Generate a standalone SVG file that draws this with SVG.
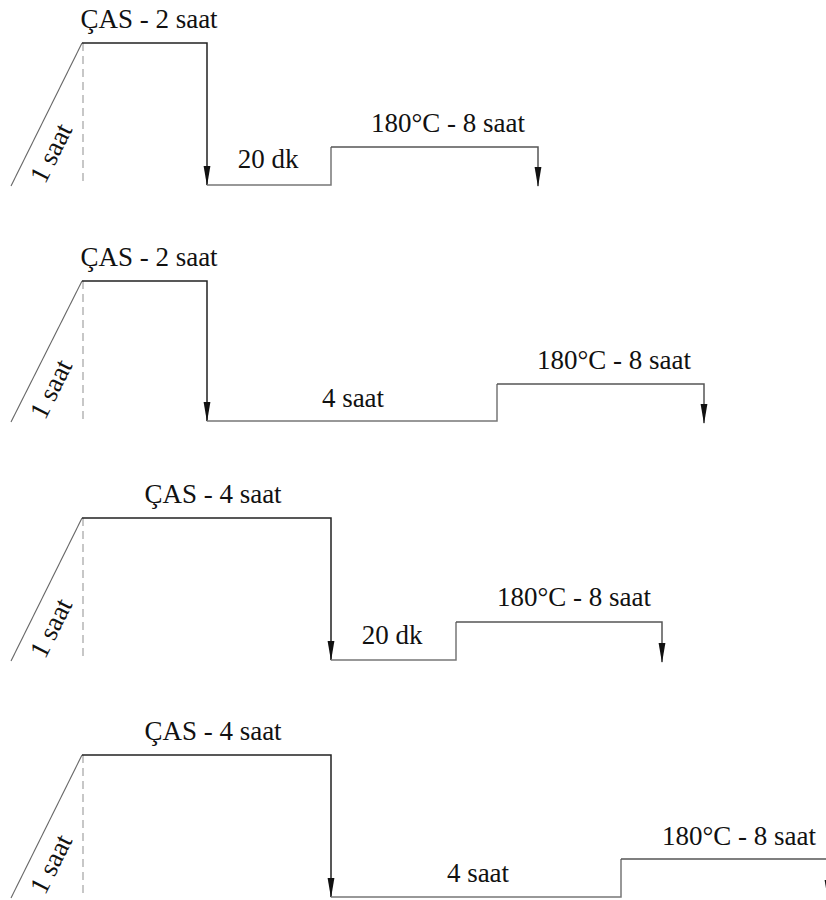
<svg xmlns="http://www.w3.org/2000/svg" width="826" height="900" viewBox="0 0 826 900">
<style>
.bg{fill:#ffffff}
.ramp{stroke:#666;stroke-width:1.1;fill:none}
.dash{stroke:#aaa;stroke-width:1.3;stroke-dasharray:8,5;fill:none}
.hold{stroke:#222;stroke-width:1.5;fill:none}
.low{stroke:#777;stroke-width:1.5;fill:none}
.age{stroke:#555;stroke-width:1.5;fill:none}
</style>
<defs>
<marker id="ah" markerUnits="userSpaceOnUse" markerWidth="24" markerHeight="10" refX="0" refY="0" viewBox="-20 -5 24 10" orient="auto">
<path d="M-19,-3.4 L1,0 L-19,3.4 Z" fill="#111"/>
</marker>
</defs>
<rect class="bg" x="0" y="0" width="826" height="900"/>
<g id="connectors">
<line class="ramp" x1="11" y1="186" x2="82" y2="43"/>
<line class="dash" x1="83" y1="43" x2="83" y2="186"/>
<polyline class="hold" points="82,43 207,43 207,185" marker-end="url(#ah)"/>
<polyline class="low" points="207,185 331,185 331,147"/>
<polyline class="age" points="331,147 538,147 538,186" marker-end="url(#ah)"/>
<line class="ramp" x1="11" y1="422" x2="82" y2="281"/>
<line class="dash" x1="83" y1="281" x2="83" y2="422"/>
<polyline class="hold" points="82,281 207,281 207,421" marker-end="url(#ah)"/>
<polyline class="low" points="207,421 497,421 497,384"/>
<polyline class="age" points="497,384 704,384 704,423" marker-end="url(#ah)"/>
<line class="ramp" x1="11" y1="661" x2="82" y2="518"/>
<line class="dash" x1="83" y1="518" x2="83" y2="661"/>
<polyline class="hold" points="82,518 331,518 331,660" marker-end="url(#ah)"/>
<polyline class="low" points="331,660 456,660 456,622"/>
<polyline class="age" points="456,622 662,622 662,662" marker-end="url(#ah)"/>
<line class="ramp" x1="11" y1="898" x2="82" y2="755"/>
<line class="dash" x1="83" y1="755" x2="83" y2="898"/>
<polyline class="hold" points="82,755 331,755 331,897" marker-end="url(#ah)"/>
<polyline class="low" points="331,897 621,897 621,859"/>
<polyline class="age" points="621,859 828,859 828,899" marker-end="url(#ah)"/>
</g>
<g font-family="Liberation Serif, Times New Roman, DejaVu Serif, serif" font-size="27" fill="#111" text-anchor="middle">
<g id="panel1">
<text x="149" y="28">ÇAS - 2 saat</text>
<text transform="translate(59,157) rotate(-63.4)">1 saat</text>
<text x="268" y="168">20 dk</text>
<text x="448" y="132">180°C - 8 saat</text>
</g>
<g id="panel2">
<text x="149" y="266">ÇAS - 2 saat</text>
<text transform="translate(59,393) rotate(-63.4)">1 saat</text>
<text x="353" y="407">4 saat</text>
<text x="614" y="369">180°C - 8 saat</text>
</g>
<g id="panel3">
<text x="213" y="503">ÇAS - 4 saat</text>
<text transform="translate(59,632) rotate(-63.4)">1 saat</text>
<text x="392" y="644">20 dk</text>
<text x="574" y="606">180°C - 8 saat</text>
</g>
<g id="panel4">
<text x="213" y="740">ÇAS - 4 saat</text>
<text transform="translate(59,868) rotate(-63.4)">1 saat</text>
<text x="478" y="882">4 saat</text>
<text x="739" y="845">180°C - 8 saat</text>
</g>
</g>
</svg>
